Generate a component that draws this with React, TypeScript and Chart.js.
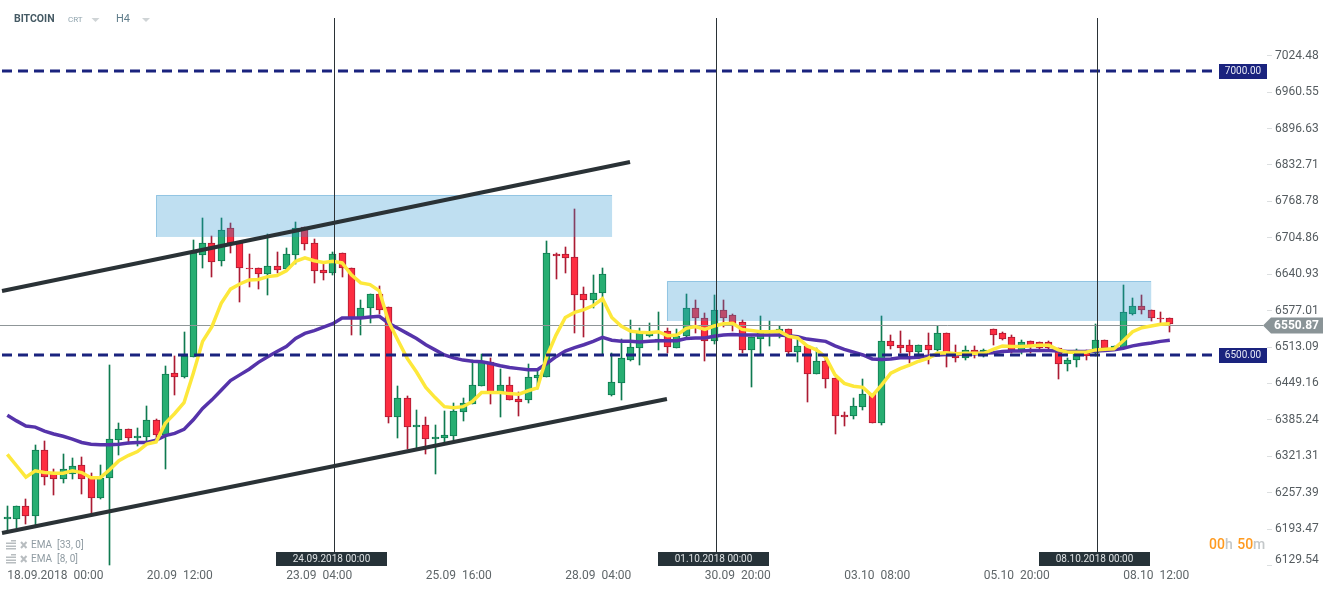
import React, { useEffect, useRef } from "react";
import { Chart, registerables } from "chart.js";

Chart.register(...registerables);

const opens = [6211,6212,6235,6216,6332,6293,6281,6290,6306,6283,6249,6283,6350,6369,6353,6355,6385,6360,6468,6462,6496,6676,6697,6665,6723,6697,6654,6653,6642,6656,6651,6676,6725,6697,6649,6644,6679,6653,6566,6582,6607,6584,6391,6425,6373,6376,6352,6353,6357,6399,6413,6445,6487,6434,6447,6422,6420,6459,6462,6677,6677,6672,6607,6596,6609,6429,6450,6492,6512,6533,6523,6542,6513,6534,6582,6566,6524,6579,6570,6558,6508,6529,6538,6538,6546,6505,6515,6466,6489,6459,6394,6392,6408,6432,6380,6524,6517,6517,6505,6517,6508,6538,6502,6494,6508,6499,6545,6538,6531,6508,6524,6522,6522,6513,6485,6491,6503,6503,6526,6510,6512,6573,6587,6580,6566,6565];
const highs = [6234,6235,6246,6342,6349,6299,6325,6319,6320,6292,6306,6482,6381,6369,6371,6410,6387,6481,6498,6541,6702,6741,6709,6742,6732,6697,6678,6653,6713,6682,6688,6735,6725,6705,6661,6682,6679,6653,6597,6607,6622,6584,6445,6428,6404,6390,6377,6401,6415,6424,6491,6502,6494,6475,6462,6434,6484,6475,6700,6679,6690,6757,6619,6640,6654,6503,6529,6561,6547,6556,6575,6547,6545,6607,6597,6574,6606,6597,6573,6562,6531,6568,6559,6551,6546,6529,6515,6513,6496,6459,6399,6424,6457,6432,6568,6535,6542,6527,6517,6538,6551,6538,6518,6516,6516,6510,6545,6540,6536,6526,6524,6522,6525,6513,6495,6510,6508,6554,6527,6515,6623,6600,6606,6580,6575,6565];
const lows = [6192,6195,6202,6201,6271,6253,6274,6281,6255,6220,6246,6130,6324,6344,6340,6344,6348,6300,6430,6460,6496,6654,6638,6656,6680,6594,6620,6617,6606,6644,6650,6660,6684,6626,6632,6640,6638,6535,6536,6557,6573,6381,6354,6334,6336,6326,6291,6347,6350,6384,6413,6445,6414,6390,6420,6393,6416,6441,6462,6633,6644,6539,6531,6582,6502,6427,6421,6490,6483,6531,6508,6504,6513,6532,6539,6490,6520,6550,6542,6504,6444,6501,6515,6530,6500,6488,6418,6466,6442,6361,6375,6388,6403,6380,6377,6510,6503,6486,6500,6485,6507,6479,6488,6492,6495,6496,6518,6526,6503,6501,6503,6509,6509,6458,6472,6479,6491,6499,6510,6509,6512,6570,6573,6560,6556,6541];
const closes = [6214,6235,6216,6332,6285,6281,6300,6304,6281,6249,6283,6352,6369,6353,6357,6385,6360,6466,6462,6499,6679,6697,6663,6720,6697,6653,6651,6642,6656,6649,6677,6723,6695,6647,6644,6677,6653,6566,6582,6607,6580,6391,6424,6373,6376,6352,6355,6359,6401,6415,6447,6489,6434,6447,6420,6418,6462,6464,6679,6674,6670,6605,6596,6610,6642,6452,6494,6514,6538,6538,6528,6514,6533,6582,6565,6524,6580,6566,6552,6508,6531,6538,6542,6546,6505,6515,6466,6489,6457,6392,6390,6410,6432,6380,6524,6515,6513,6505,6517,6508,6538,6503,6494,6508,6501,6508,6536,6529,6508,6522,6515,6512,6512,6485,6492,6508,6499,6526,6513,6515,6575,6587,6579,6565,6563,6554];
const ema8 = [6325,6305,6285,6296,6293,6292,6292,6296,6293,6284,6284,6298,6314,6323,6330,6343,6347,6380,6397,6416,6468,6524,6550,6591,6616,6625,6632,6633,6638,6640,6648,6665,6671,6666,6663,6665,6662,6641,6627,6624,6613,6559,6526,6494,6470,6443,6425,6409,6407,6409,6418,6434,6434,6434,6432,6431,6437,6442,6497,6535,6566,6575,6580,6587,6599,6566,6551,6542,6540,6539,6541,6534,6535,6547,6550,6545,6551,6555,6556,6545,6543,6541,6541,6542,6533,6530,6516,6509,6496,6465,6450,6445,6443,6428,6447,6468,6476,6482,6489,6494,6503,6504,6502,6503,6503,6503,6510,6516,6515,6515,6516,6517,6517,6509,6505,6505,6505,6509,6510,6511,6525,6541,6548,6551,6554,6555];
const ema33 = [6394,6384,6375,6373,6366,6361,6357,6352,6346,6343,6342,6342,6343,6345,6346,6346,6350,6358,6362,6369,6386,6406,6421,6438,6455,6465,6475,6487,6497,6506,6515,6529,6538,6543,6549,6555,6565,6565,6565,6567,6568,6556,6547,6538,6529,6518,6509,6500,6495,6491,6489,6488,6485,6481,6478,6476,6474,6474,6485,6497,6507,6513,6518,6524,6531,6526,6524,6524,6523,6524,6525,6525,6525,6529,6530,6530,6533,6535,6536,6535,6535,6535,6535,6535,6534,6532,6528,6526,6524,6516,6510,6505,6500,6493,6492,6493,6495,6495,6496,6498,6500,6501,6501,6502,6502,6503,6504,6506,6507,6507,6508,6508,6508,6507,6506,6506,6506,6507,6508,6509,6512,6516,6519,6521,6524,6526];

const xTickIndex = [0, 15, 30, 45, 60, 75, 90, 105, 120];
const xTickLabels = ["18.09.2018  00:00","20.09  12:00","23.09  04:00","25.09  16:00","28.09  04:00","30.09  20:00","03.10  08:00","05.10  20:00","08.10  12:00"];
const priceTicks = [7024.48,6960.55,6896.63,6832.71,6768.78,6704.86,6640.93,6577.01,6513.09,6449.16,6385.24,6321.31,6257.39,6193.47,6129.54];
const levels = [7000, 6500];
const lastPrice = 6550.87;
const markerIndex = [35.183, 76.258, 117.226];
const markerLabels = ["24.09.2018 00:00", "01.10.2018 00:00", "08.10.2018 00:00"];
const zones = [
  { from: 16, to: 65.03, top: 6781.7, bottom: 6707.8 },
  { from: 70.93, to: 123, top: 6630.3, bottom: 6559.9 },
];
const trendUpper = [[-0.57, 6612.7], [66.96, 6839.8]];
const trendLower = [[-0.57, 6186.6], [70.93, 6422.5]];

const GREEN = "#27ae72", GREEN_DARK = "#0f7a50", RED = "#fd2d41", RED_DARK = "#ab1b33";
const FONT = "Roboto, sans-serif";

const overlay = {
  id: "overlay",
  beforeDatasetDraw(chart: any, args: any) {
    const ds = chart.data.datasets[args.index];
    if (ds.type === "bar") {
      args.meta.data.forEach((el: any) => {
        el.x = Math.floor(el.x) + 0.5;
        el.y = Math.round(el.y);
        el.base = Math.round(el.base);
      });
    }
  },
  afterDatasetDraw(chart: any, args: any) {
    if (chart.data.datasets[args.index].label !== "body") return;
    const { ctx, scales: { x, y } } = chart;
    ctx.save();
    for (const z of zones) {
      const l = x.getPixelForValue(z.from), r = x.getPixelForValue(z.to);
      const t = y.getPixelForValue(z.top), b = y.getPixelForValue(z.bottom);
      ctx.fillStyle = "rgba(42,148,208,0.3)";
      ctx.fillRect(l, t, r - l, b - t);
      ctx.strokeStyle = "rgba(110,175,215,0.55)";
      ctx.lineWidth = 1;
      ctx.beginPath();
      ctx.moveTo(Math.round(l) + 0.5, Math.round(b));
      ctx.lineTo(Math.round(l) + 0.5, Math.round(t) + 0.5);
      ctx.lineTo(Math.round(r), Math.round(t) + 0.5);
      ctx.stroke();
    }
    ctx.restore();
  },
  afterDraw(chart: any) {
    const { ctx, scales: { x, y, y2 } } = chart;
    ctx.save();
    ctx.textBaseline = "middle";
    ctx.textAlign = "left";
    // header
    ctx.fillStyle = "#455a64";
    ctx.font = `bold 10.5px ${FONT}`;
    ctx.fillText("BITCOIN", 14, 19.5);
    ctx.fillStyle = "#90a4ae";
    ctx.font = `8px ${FONT}`;
    ctx.fillText("CRT", 68, 19.5);
    ctx.fillStyle = "#607d8b";
    ctx.font = `11px ${FONT}`;
    ctx.fillText("H4", 116, 19);
    ctx.fillStyle = "#cfd4d6";
    for (const cx of [95.5, 146]) {
      ctx.beginPath();
      ctx.moveTo(cx - 4, 18);
      ctx.lineTo(cx + 4, 18);
      ctx.lineTo(cx, 22);
      ctx.fill();
    }
    // indicator legend
    [["EMA  [33, 0]", 545], ["EMA  [8, 0]", 559]].forEach(([text, yy]: any) => {
      ctx.fillStyle = "#b8bdc0";
      ctx.fillRect(11, yy - 5, 5, 1.5);
      ctx.fillRect(6, yy - 2.5, 10, 1.5);
      ctx.fillRect(6, yy + 0.5, 10, 1.5);
      ctx.fillRect(6, yy + 3, 10, 1.5);
      ctx.strokeStyle = "#b8bdc0";
      ctx.lineWidth = 2;
      ctx.beginPath();
      ctx.moveTo(21, yy - 3);
      ctx.lineTo(26.5, yy + 3);
      ctx.moveTo(26.5, yy - 3);
      ctx.lineTo(21, yy + 3);
      ctx.stroke();
      ctx.fillStyle = "#8f9ba2";
      ctx.font = `10px ${FONT}`;
      ctx.fillText(text, 31, yy);
    });
    // vertical marker tags
    markerIndex.forEach((v, i) => {
      const cx = x.getPixelForValue(v);
      ctx.fillStyle = "#263238";
      ctx.fillRect(Math.floor(cx) - 58, 552, 111, 14);
      ctx.fillStyle = "#dde1e3";
      ctx.font = `10px ${FONT}`;
      ctx.textAlign = "center";
      ctx.fillText(markerLabels[i], Math.floor(cx) - 2.5, 559.5);
    });
    // level tags
    levels.forEach((v) => {
      const py = Math.round(y.getPixelForValue(v));
      ctx.fillStyle = "#1a237e";
      ctx.fillRect(1219, py - 7, 48, 15);
      ctx.fillStyle = "#e6e8f4";
      ctx.font = `10px ${FONT}`;
      ctx.textAlign = "center";
      ctx.fillText(v.toFixed(2), 1243, py + 0.5);
    });
    // last price tag
    const lp = y2.getPixelForValue(lastPrice);
    ctx.fillStyle = "#8a9497";
    ctx.beginPath();
    ctx.moveTo(1263, lp);
    ctx.lineTo(1271, lp - 8);
    ctx.lineTo(1323, lp - 8);
    ctx.lineTo(1323, lp + 8);
    ctx.lineTo(1271, lp + 8);
    ctx.closePath();
    ctx.fill();
    ctx.fillStyle = "#ffffff";
    ctx.font = `bold 12px ${FONT}`;
    ctx.textAlign = "center";
    ctx.fillText(lastPrice.toFixed(2), 1296.5, lp + 0.5);
    // timer
    ctx.textAlign = "left";
    ctx.font = `500 14px ${FONT}`;
    let tx = 1209;
    [["00", "#ff9a1f", 0], ["h ", "#c4c8ca", 1], ["50", "#ff9a1f", 0], ["m", "#c4c8ca", 0]].forEach(([t, c, gap]: any) => {
      ctx.fillStyle = c;
      ctx.fillText(t, tx, 545);
      tx += ctx.measureText(t).width + gap;
    });
    ctx.restore();
  },
};

export default function App() {
  const ref = useRef<HTMLCanvasElement>(null);
  useEffect(() => {
    document.body.style.margin = "0";
    document.body.style.background = "#ffffff";
    const idx = opens.map((_, i) => i);
    const up = idx.map((i) => closes[i] >= opens[i]);
    const lineBase = { type: "line", pointRadius: 0, tension: 0, fill: false, xAxisID: "x", yAxisID: "y" };
    const chart = new Chart(ref.current as HTMLCanvasElement, {
      type: "bar",
      data: {
        datasets: [
          ...markerIndex.map((v, i) => ({
            ...lineBase, label: `marker${i}`, order: 1, borderColor: "#2a3236", borderWidth: 1,
            data: [{ x: v, y: 7093.3 }, { x: v, y: 6153.2 }],
          })),
          {
            ...lineBase, label: "upper", order: 2, borderColor: "#2a3236", borderWidth: 4,
            data: trendUpper.map(([a, b]) => ({ x: a, y: b })),
          },
          {
            ...lineBase, label: "lower", order: 2, borderColor: "#2a3236", borderWidth: 4,
            data: trendLower.map(([a, b]) => ({ x: a, y: b })),
          },
          ...levels.map((v) => ({
            ...lineBase, label: `level${v}`, order: 3, borderColor: "#1a237e", borderWidth: 3, borderDash: [10, 6],
            data: [{ x: -0.57, y: v }, { x: 130.18, y: v }],
          })),
          {
            ...lineBase, label: "EMA 8", order: 4, borderColor: "#fde83b", borderWidth: 3.5,
            data: ema8.map((v, i) => ({ x: i, y: v })),
          },
          {
            ...lineBase, label: "EMA 33", order: 5, borderColor: "#5533aa", borderWidth: 3.5,
            data: ema33.map((v, i) => ({ x: i, y: v })),
          },
          {
            ...lineBase, label: "last", order: 6, yAxisID: "y2", borderColor: "#8f9698", borderWidth: 1,
            data: [{ x: -0.785, y: lastPrice }, { x: 135.02, y: lastPrice }],
          },
          {
            type: "bar", label: "body", order: 10, grouped: false, barThickness: 7, borderWidth: 1, borderSkipped: false,
            xAxisID: "x", yAxisID: "y",
            backgroundColor: up.map((u) => (u ? GREEN : RED)),
            borderColor: up.map((u) => (u ? GREEN_DARK : RED_DARK)),
            data: idx.map((i) => ({ x: i, y: [opens[i], closes[i]] })),
          },
          {
            type: "bar", label: "wick", order: 11, grouped: false, barThickness: 1, borderWidth: 0,
            xAxisID: "x", yAxisID: "y",
            backgroundColor: up.map((u) => (u ? GREEN_DARK : RED_DARK)),
            data: idx.map((i) => ({ x: i, y: [lows[i], highs[i]] })),
          },
        ] as any,
      },
      options: {
        responsive: false,
        animation: false,
        events: [],
        layout: { padding: { top: 18, left: 0, right: 0, bottom: 0 } },
        plugins: { legend: { display: false }, tooltip: { enabled: false } },
        scales: {
          x: {
            type: "linear",
            offset: false,
            min: -0.785,
            max: 135.45,
            grid: { display: false },
            border: { display: false },
            afterBuildTicks: (s: any) => { s.ticks = xTickIndex.map((value) => ({ value })); },
            afterFit: (s: any) => { s.height = 25; s.paddingLeft = 0; s.paddingRight = 0; },
            ticks: {
              autoSkip: false,
              maxRotation: 0,
              align: "start",
              padding: -5,
              color: "#5f6669",
              font: { family: FONT, size: 12 },
              callback: (value: any) => xTickLabels[xTickIndex.indexOf(value)] ?? "",
            },
          },
          y: { type: "linear", display: false, min: 6128.5, max: 7093.3 },
          y2: {
            type: "linear",
            position: "right",
            min: 6128.7,
            max: 7090.7,
            border: { display: false },
            grid: { drawOnChartArea: false, color: "#dcdfe0", tickLength: 5 },
            afterBuildTicks: (s: any) => { s.ticks = priceTicks.map((value) => ({ value })); },
            afterFit: (s: any) => { s.width = 68; },
            ticks: {
              autoSkip: false,
              padding: 3,
              color: "#555c60",
              font: { family: FONT, size: 12, lineHeight: 1 },
              callback: (value: any) => {
                const t = Number(value).toFixed(2);
                return value === priceTicks[priceTicks.length - 1] ? [t, ""] : t;
              },
            },
          },
        },
      } as any,
      plugins: [overlay],
    } as any);
    return () => chart.destroy();
  }, []);
  return <canvas ref={ref} width={1335} height={591} style={{ display: "block", position: "absolute", left: 0, top: 0 }} />;
}
